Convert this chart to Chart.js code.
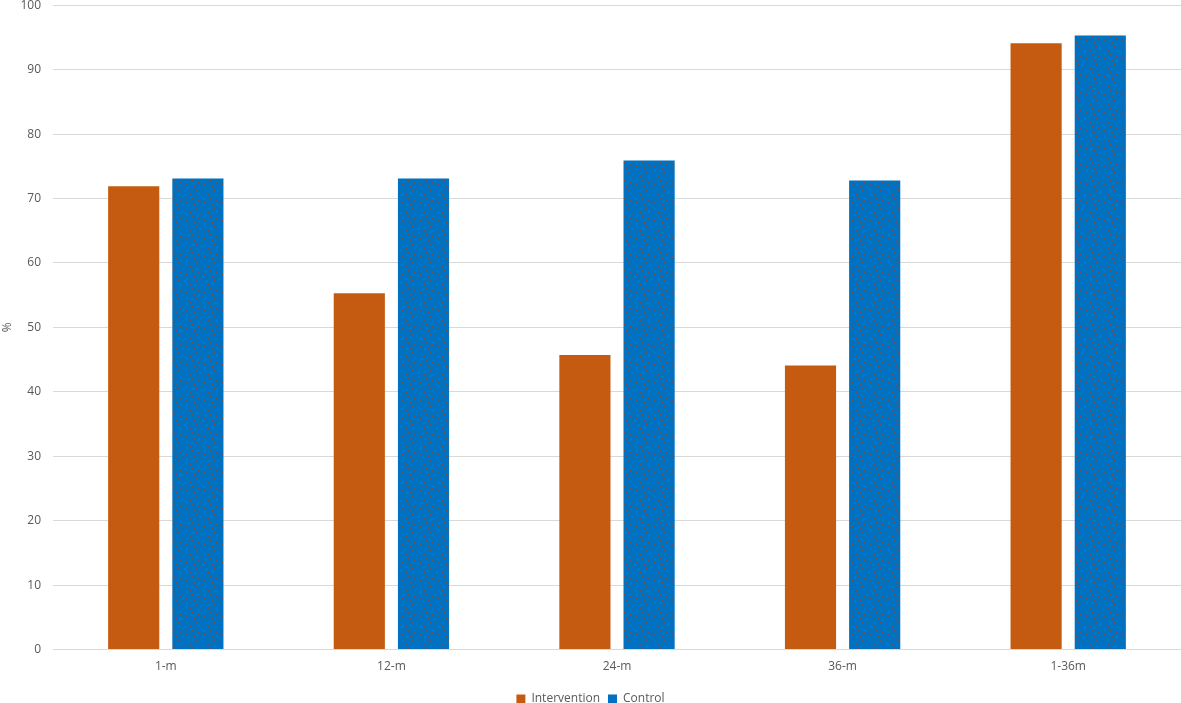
<!DOCTYPE html>
<html>
<head>
<meta charset="utf-8">
<script src="https://cdn.jsdelivr.net/npm/chart.js@4"></script>
<style>
  html, body { margin: 0; padding: 0; background: #fff; overflow: hidden; }
  #wrap { width: 1181px; height: 703px; overflow: hidden; position: relative; }
  #c { position: absolute; left: 0; top: -14px; }
</style>
</head>
<body>
<div id="wrap"><canvas id="c" width="1181" height="726"></canvas></div>
<script>
const categories = ['1-m', '12-m', '24-m', '36-m', '1-36m'];
const intervention = [71.9, 55.3, 45.7, 44.1, 94.1];
const control = [73.1, 73.1, 75.9, 72.8, 95.3];
const yTicks = [0, 10, 20, 30, 40, 50, 60, 70, 80, 90, 100];

// speckled fill for the control bars
function speckle(){
  const t = document.createElement('canvas');
  t.width = 9; t.height = 9;
  const g = t.getContext('2d');
  g.fillStyle = '#0070C0';
  g.fillRect(0, 0, 9, 9);
  g.fillStyle = 'rgba(140,80,60,0.75)';
  [[1,1],[5,2],[3,5],[7,6],[0,7],[6,0]].forEach(p => g.fillRect(p[0], p[1], 1, 1));
  return g.createPattern(t, 'repeat');
}

const tickFont = { family: "'Open Sans', 'DejaVu Sans', sans-serif", size: 12 };

new Chart(document.getElementById('c'), {
  type: 'bar',
  data: {
    labels: categories,
    datasets: [
      { label: 'Intervention', data: intervention, backgroundColor: '#C55A11', borderWidth: 0 },
      { label: 'Control', data: control, backgroundColor: speckle(), borderWidth: 0 }
    ]
  },
  options: {
    responsive: false,
    animation: false,
    categoryPercentage: 0.569,
    barPercentage: 0.797,
    layout: { padding: { top: 0, right: 0, left: 0, bottom: -3 } },
    plugins: {
      legend: {
        position: 'bottom',
        labels: { boxWidth: 9, boxHeight: 9, color: '#595959', font: tickFont, padding: 8,
          generateLabels: chart => [
            { text: 'Intervention', fillStyle: '#C55A11', strokeStyle: '#C55A11', lineWidth: 0, datasetIndex: 0, fontColor: '#595959' },
            { text: 'Control', fillStyle: '#0070C0', strokeStyle: '#0070C0', lineWidth: 0, datasetIndex: 1, fontColor: '#595959' }
          ] }
      },
      tooltip: { enabled: false }
    },
    scales: {
      x: {
        grid: { display: false },
        border: { color: '#d9d9d9' },
        ticks: { color: '#595959', font: tickFont, padding: 2 },
        afterFit: axis => { axis.height += 9; }
      },
      y: {
        min: 0, max: 100,
        afterBuildTicks: axis => { axis.ticks = yTicks.map(v => ({ value: v })); },
        grid: { color: '#d9d9d9', drawTicks: false },
        border: { display: false },
        ticks: { color: '#595959', font: tickFont, padding: 12 },
        title: { display: true, text: '%', color: '#595959', font: tickFont, padding: 0 },
        afterFit: axis => { axis.width = 53; }
      }
    }
  }
});
</script>
</body>
</html>
